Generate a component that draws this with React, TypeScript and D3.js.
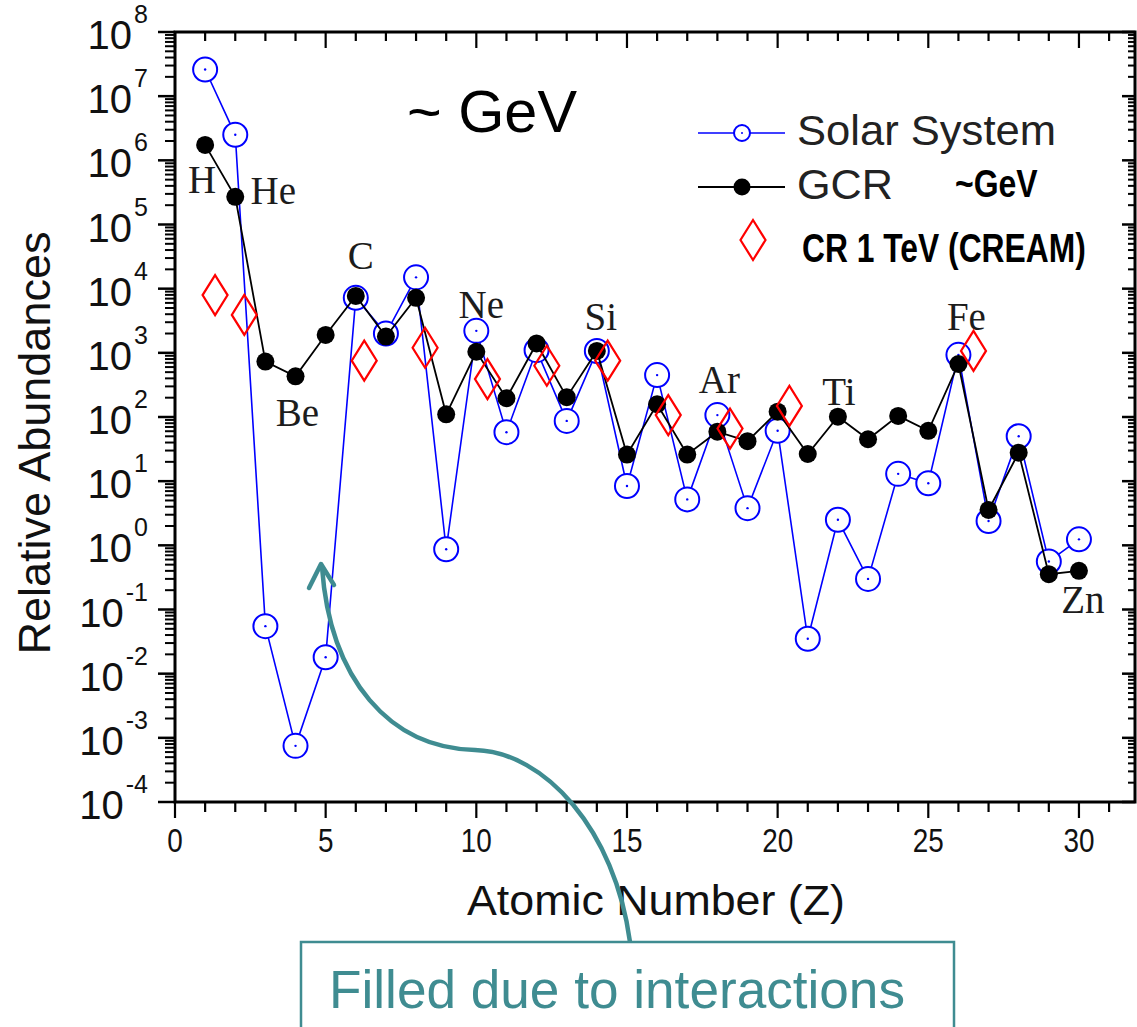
import React from 'react';
import * as d3 from 'd3';

// Atomic numbers Z = 1..30
const atomicNumbers = [1, 2, 3, 4, 5, 6, 7, 8, 9, 10, 11, 12, 13, 14, 15, 16, 17, 18, 19, 20, 21, 22, 23, 24, 25, 26, 27, 28, 29, 30];

// Solar System relative abundances
const solarSystem = [2.6e7, 2.5e6, 0.055, 7.5e-4, 0.018, 7200, 2000, 1.5e4, 0.87, 2200, 58, 1100, 87, 1070, 8.4, 450, 5.2, 107, 3.8, 61, 0.035, 2.5, 0.3, 13, 9.3, 930, 2.4, 50, 0.56, 1.24];

// Galactic cosmic rays (~GeV)
const gcr = [1.74e6, 2.7e5, 730, 430, 1900, 7700, 1790, 7200, 110, 1040, 196, 1400, 204, 1070, 26, 158, 26, 59, 42, 121, 26.5, 101, 45, 104, 61, 670, 3.56, 27.8, 0.355, 0.4];

// CREAM measurements at 1 TeV (plotted slightly right of the integer Z)
const creamZ = [1.33, 2.3, 6.28, 8.3, 10.37, 12.34, 14.36, 16.37, 18.42, 20.39, 26.5];
const creamValues = [7950, 3900, 755, 1200, 390, 630, 755, 107, 66, 149, 1070];

// Element names written next to the GCR points
const elementNames = ['H', 'He', 'Be', 'C', 'Ne', 'Si', 'Ar', 'Ti', 'Fe', 'Zn'];
const elementZ = [1, 2, 4, 6, 10, 14, 18, 22, 26, 30];

// Axis ticks
const xMajorTicks = [0, 5, 10, 15, 20, 25, 30];
const yExponents = [8, 7, 6, 5, 4, 3, 2, 1, 0, -1, -2, -3, -4];

// label offsets (px) from the GCR point: [dx, dy]
const labelOffsets: [number, number][] = [
  [-3, 48], [38, 7], [2, 50], [5, -27], [5, -34], [4, -21], [2, -39], [1, -12], [8, -34], [4, 42],
];

const W = 1137;
const H = 1027;
const LEFT = 175;
const RIGHT = 1135;
const TOP = 32;
const BOTTOM = 802;

const SANS = '"Liberation Sans", Arial, sans-serif';
const SERIF = '"Liberation Serif", "Times New Roman", serif';
const TEAL = '#3f8c91';
const BLUE = '#0000ff';
const RED = '#ff0000';

function diamondPath(cx: number, cy: number, w: number, h: number) {
  return `M${cx},${cy - h / 2}L${cx + w / 2},${cy}L${cx},${cy + h / 2}L${cx - w / 2},${cy}Z`;
}

export default function App() {
  const x = d3.scaleLinear().domain([0, 31.86]).range([LEFT, RIGHT]);
  const y = d3.scaleLog().domain([1e-4, 1e8]).range([BOTTOM, TOP]);

  const xMinor = d3.range(0, 32);
  const yMinor: number[] = [];
  for (let e = -4; e < 8; e++) {
    for (let m = 2; m <= 9; m++) yMinor.push(m * Math.pow(10, e));
  }

  const line = d3
    .line<[number, number]>()
    .x((d) => x(d[0]))
    .y((d) => y(d[1]));

  const solarPts: [number, number][] = atomicNumbers.map((z, i) => [z, solarSystem[i]]);
  const gcrPts: [number, number][] = atomicNumbers.map((z, i) => [z, gcr[i]]);

  return (
    <svg
      width={W}
      height={H}
      viewBox={`0 0 ${W} ${H}`}
      style={{ position: 'absolute', left: 0, top: 0, background: '#fff' }}
    >
      <rect x={0} y={0} width={W} height={H} fill="#fff" />

      {/* frame */}
      <rect x={LEFT} y={TOP} width={RIGHT - LEFT} height={BOTTOM - TOP} fill="none" stroke="#000" strokeWidth={3} />

      {/* x ticks, bottom (outward) and top (inward) */}
      {xMinor.map((v) => {
        const major = v % 5 === 0;
        return (
          <g key={'xt' + v}>
            <line x1={x(v)} x2={x(v)} y1={BOTTOM} y2={BOTTOM + (major ? 16 : 10)} stroke="#000" strokeWidth={2.2} />
            <line x1={x(v)} x2={x(v)} y1={TOP} y2={TOP + (major ? 16 : 9)} stroke="#000" strokeWidth={2.2} />
          </g>
        );
      })}
      {xMajorTicks.map((v) => (
        <text
          key={'xl' + v}
          transform={`translate(${x(v)}, 852) scale(0.845, 1)`}
          fontFamily={SANS}
          fontSize={33}
          textAnchor="middle"
          fill="#111"
        >
          {v}
        </text>
      ))}

      {/* y ticks, left (outward) and right (inward) */}
      {yExponents.map((e) => {
        const v = Math.pow(10, e);
        return (
          <g key={'ym' + e}>
            <line x1={LEFT - 17} x2={LEFT} y1={y(v)} y2={y(v)} stroke="#000" strokeWidth={2.5} />
            <line x1={RIGHT - 13} x2={RIGHT} y1={y(v)} y2={y(v)} stroke="#000" strokeWidth={2.5} />
          </g>
        );
      })}
      {yMinor.map((v, i) => (
        <g key={'yn' + i}>
          <line x1={LEFT - 10} x2={LEFT} y1={y(v)} y2={y(v)} stroke="#000" strokeWidth={2} />
          <line x1={RIGHT - 7} x2={RIGHT} y1={y(v)} y2={y(v)} stroke="#000" strokeWidth={2} />
        </g>
      ))}
      {yExponents.map((e) => (
        <text key={'yl' + e} x={148} y={y(Math.pow(10, e)) + 17} fontFamily={SANS} textAnchor="end" fill="#111">
          <tspan fontSize={40}>10</tspan>
          <tspan fontSize={25} dx={2} dy={-26}>
            {e < 0 ? '-' + Math.abs(e) : String(e)}
          </tspan>
        </text>
      ))}

      {/* axis titles */}
      <text
        transform={`translate(50, 443) rotate(-90)`}
        fontFamily={SANS}
        fontSize={44}
        textAnchor="middle"
        fill="#111"
        textLength={423}
        lengthAdjust="spacingAndGlyphs"
      >
        Relative Abundances
      </text>
      <text
        x={656}
        y={915}
        fontFamily={SANS}
        fontSize={42}
        textAnchor="middle"
        fill="#111"
        textLength={378}
        lengthAdjust="spacingAndGlyphs"
      >
        Atomic Number (Z)
      </text>

      {/* Solar System series */}
      <path d={line(solarPts) || ''} fill="none" stroke={BLUE} strokeWidth={1.6} />
      {solarPts.map((d, i) => (
        <g key={'s' + i}>
          <circle cx={x(d[0])} cy={y(d[1])} r={12} fill="#fff" stroke={BLUE} strokeWidth={2} />
          <circle cx={x(d[0])} cy={y(d[1])} r={1.2} fill={BLUE} />
        </g>
      ))}

      {/* GCR series */}
      <path d={line(gcrPts) || ''} fill="none" stroke="#000" strokeWidth={1.8} />
      {gcrPts.map((d, i) => (
        <circle key={'g' + i} cx={x(d[0])} cy={y(d[1])} r={9} fill="#000" />
      ))}

      {/* CREAM diamonds */}
      {creamZ.map((z, i) => (
        <path key={'c' + i} d={diamondPath(x(z), y(creamValues[i]), 25, 40)} fill="none" stroke={RED} strokeWidth={2.2} />
      ))}

      {/* element labels */}
      {elementNames.map((name, i) => {
        const idx = atomicNumbers.indexOf(elementZ[i]);
        const [dx, dy] = labelOffsets[i];
        return (
          <text
            key={'e' + name}
            x={x(elementZ[i]) + dx}
            y={y(gcr[idx]) + dy}
            fontFamily={SERIF}
            fontSize={39}
            textAnchor="middle"
            fill="#1c1c1c"
          >
            {name}
          </text>
        );
      })}

      {/* energy note */}
      <text x={407} y={132} fontFamily={SANS} fontSize={60} fill="#000" textLength={170} lengthAdjust="spacingAndGlyphs">
        ~ GeV
      </text>

      {/* legend */}
      <g>
        <line x1={698} x2={785} y1={133} y2={133} stroke={BLUE} strokeWidth={1.6} />
        <circle cx={742} cy={133} r={8} fill="#fff" stroke={BLUE} strokeWidth={2} />
        <circle cx={742} cy={133} r={1} fill={BLUE} />
        <text x={797} y={145} fontFamily={SANS} fontSize={42} fill="#222" textLength={259} lengthAdjust="spacingAndGlyphs">
          Solar System
        </text>

        <line x1={698} x2={785} y1={187} y2={187} stroke="#000" strokeWidth={1.8} />
        <circle cx={742} cy={187} r={8.5} fill="#000" />
        <text x={797} y={199} fontFamily={SANS} fontSize={42} fill="#222" textLength={96} lengthAdjust="spacingAndGlyphs">
          GCR
        </text>
        <text transform="translate(955, 197) scale(0.82, 1)" fontFamily={SANS} fontWeight="bold" fontSize={39} fill="#000">
          ~GeV
        </text>

        <path d={diamondPath(753, 240, 25, 40)} fill="none" stroke={RED} strokeWidth={2.2} />
        <text transform="translate(802, 262) scale(0.795, 1)" fontFamily={SANS} fontWeight="bold" fontSize={40} fill="#000">
          CR 1 TeV (CREAM)
        </text>
      </g>

      {/* annotation callout */}
      <path
        d="M630,942 C615,830 545,752 475,750 C390,748 330,680 322,567"
        fill="none"
        stroke={TEAL}
        strokeWidth={4.5}
      />
      <path d="M309,588 L321,564 L334,585" fill="none" stroke={TEAL} strokeWidth={4.5} strokeLinecap="round" strokeLinejoin="round" />
      <rect x={301} y={942} width={653} height={110} fill="#fff" stroke={TEAL} strokeWidth={2.5} />
      <text
        x={329}
        y={1008}
        fontFamily={SANS}
        fontSize={54}
        fill={TEAL}
        textLength={576}
        lengthAdjust="spacingAndGlyphs"
      >
        Filled due to interactions
      </text>
    </svg>
  );
}
